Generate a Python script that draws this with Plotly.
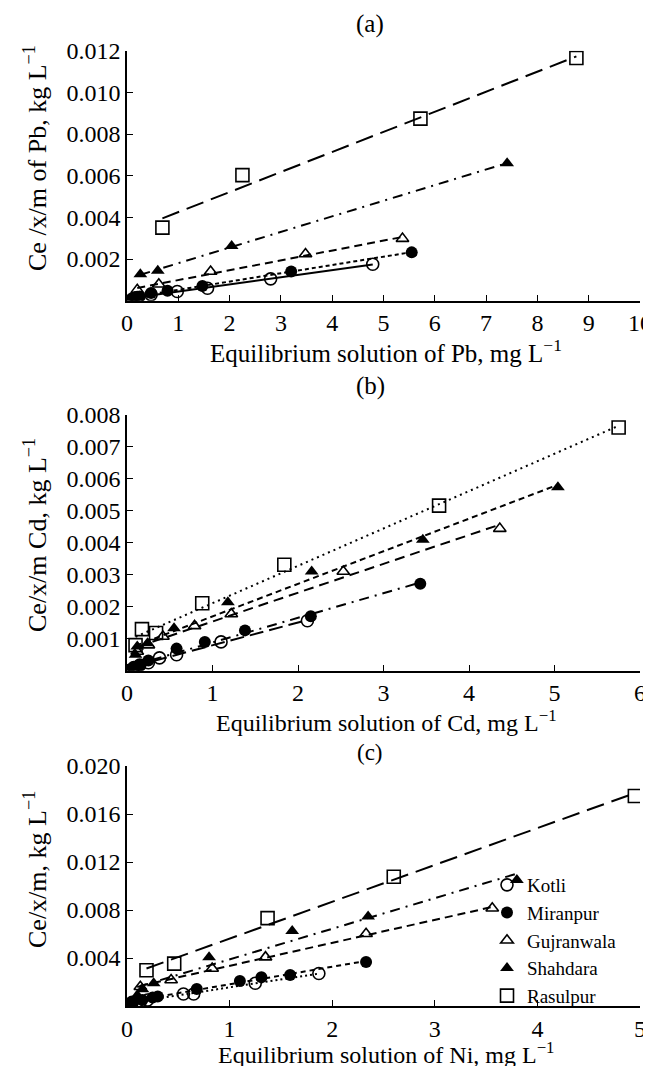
import numpy as np
import plotly.graph_objects as go

# ---------------- data ----------------
sites = ["Kotli", "Miranpur", "Gujranwala", "Shahdara", "Rasulpur"]

# Panel (a) Pb
pb_kotli_x = [0.2, 0.47, 0.98, 1.57, 2.8, 4.79]
pb_kotli_y = [0.00015, 0.00029, 0.00044, 0.0006, 0.00105, 0.00175]
pb_miranpur_x = [0.1, 0.15, 0.25, 0.47, 0.79, 1.47, 3.2, 5.55]
pb_miranpur_y = [0.00012, 0.00016, 0.0002, 0.00037, 0.00048, 0.00071, 0.0014, 0.00232]
pb_gujranwala_x = [0.2, 0.62, 1.63, 3.48, 5.37]
pb_gujranwala_y = [0.00052, 0.00079, 0.0014, 0.00224, 0.00298]
pb_shahdara_x = [0.26, 0.6, 2.04, 7.41]
pb_shahdara_y = [0.00127, 0.00144, 0.00262, 0.0066]
pb_rasulpur_x = [0.69, 2.25, 5.72, 8.76]
pb_rasulpur_y = [0.00351, 0.00603, 0.00874, 0.01165]

# Panel (b) Cd
cd_kotli_x = [0.08, 0.15, 0.25, 0.38, 0.58, 1.1, 2.11]
cd_kotli_y = [0.0001, 0.00018, 0.00025, 0.0004, 0.0005, 0.0009, 0.00156]
cd_miranpur_x = [0.02, 0.08, 0.15, 0.25, 0.58, 0.91, 1.38, 2.15, 3.43]
cd_miranpur_y = [0.00003, 0.0001, 0.00018, 0.00032, 0.00069, 0.0009, 0.00126, 0.0017, 0.00272]
cd_gujranwala_x = [0.12, 0.25, 0.42, 0.79, 1.22, 2.53, 4.36]
cd_gujranwala_y = [0.0006, 0.0008, 0.00107, 0.0014, 0.00177, 0.0031, 0.00444]
cd_shahdara_x = [0.1, 0.12, 0.24, 0.55, 1.18, 2.16, 3.46, 5.04]
cd_shahdara_y = [0.0005, 0.00076, 0.00086, 0.00133, 0.00214, 0.0031, 0.00409, 0.00573]
cd_rasulpur_x = [0.1, 0.175, 0.34, 0.88, 1.84, 3.65, 5.75]
cd_rasulpur_y = [0.0008, 0.0013, 0.00118, 0.00211, 0.00331, 0.00516, 0.0076]

# Panel (c) Ni
ni_kotli_x = [0.05, 0.1, 0.2, 0.55, 0.65, 1.25, 1.87]
ni_kotli_y = [0.0003, 0.0004, 0.0005, 0.001, 0.001, 0.0019, 0.00271]
ni_miranpur_x = [0.05, 0.15, 0.25, 0.3, 0.68, 1.10, 1.31, 1.59, 2.33]
ni_miranpur_y = [0.0003, 0.0005, 0.0007, 0.0008, 0.00141, 0.00209, 0.00239, 0.00258, 0.00366]
ni_gujranwala_x = [0.13, 0.43, 0.83, 1.35, 2.33, 3.56]
ni_gujranwala_y = [0.0016, 0.00217, 0.00312, 0.00407, 0.00602, 0.00814]
ni_shahdara_x = [0.1, 0.15, 0.26, 0.8, 1.61, 2.35, 3.8]
ni_shahdara_y = [0.0009, 0.0014, 0.0019, 0.00407, 0.00624, 0.00746, 0.0105]
ni_rasulpur_x = [0.19, 0.46, 1.37, 2.60, 4.95]
ni_rasulpur_y = [0.00298, 0.00353, 0.00732, 0.01077, 0.0175]

# ticks
a_xticks = [0, 1, 2, 3, 4, 5, 6, 7, 8, 9, 10]
a_yticks = [0.002, 0.004, 0.006, 0.008, 0.010, 0.012]
a_yticktext = ["0.002", "0.004", "0.006", "0.008", "0.010", "0.012"]
b_xticks = [0, 1, 2, 3, 4, 5, 6]
b_yticks = [0.001, 0.002, 0.003, 0.004, 0.005, 0.006, 0.007, 0.008]
b_yticktext = ["0.001", "0.002", "0.003", "0.004", "0.005", "0.006", "0.007", "0.008"]
c_xticks = [0, 1, 2, 3, 4, 5]
c_yticks = [0.004, 0.008, 0.012, 0.016, 0.020]
c_yticktext = ["0.004", "0.008", "0.012", "0.016", "0.020"]

panel_labels = ["(a)", "(b)", "(c)"]
x_titles = ["Equilibrium solution of Pb, mg L<sup>−1</sup>",
            "Equilibrium solution of Cd, mg L<sup>−1</sup>",
            "Equilibrium solution of Ni, mg L<sup>−1</sup>"]
y_titles = ["Ce /x/m of Pb, kg L<sup>−1</sup>",
            "Ce/x/m Cd, kg L<sup>−1</sup>",
            "Ce/x/m, kg L<sup>−1</sup>"]

# ---------------- styling ----------------
FONT = "Liberation Serif, Times New Roman, Times, serif"
W, H = 651, 1066
ML, MR, MT, MB = 119, 19, 10, 10
PH = H - MT - MB
PW = W - ML - MR

def ydom(top_px, bot_px):
    return [1 - (bot_px - MT) / PH, 1 - (top_px - MT) / PH]

def ypaper(px):
    return 1 - (px - MT) / PH

def xpaper(px):
    return (px - ML) / PW

panels_px = [(42.7, 292.7), (406.7, 662.7), (758, 998)]

markers = {
    "Kotli": dict(symbol="circle-open", size=12, color="black", line=dict(width=1.6, color="black")),
    "Miranpur": dict(symbol="circle", size=12, color="black"),
    "Gujranwala": dict(symbol="triangle-up-open", size=11, color="black", line=dict(width=1.6, color="black")),
    "Shahdara": dict(symbol="triangle-up", size=12, color="black"),
    "Rasulpur": dict(symbol="square-open", size=13, color="black", line=dict(width=1.6, color="black")),
}

dashes = [
    {"Kotli": "solid", "Miranpur": "4px,3px", "Gujranwala": "8px,5px",
     "Shahdara": "10px,6px,2px,6px", "Rasulpur": "18px,8px"},
    {"Kotli": "14px,6px", "Miranpur": "10px,6px,2px,6px", "Gujranwala": "10px,6px",
     "Shahdara": "6px,4px", "Rasulpur": "2px,4px"},
    {"Kotli": "2px,3px", "Miranpur": "5px,4px", "Gujranwala": "8px,5px",
     "Shahdara": "10px,6px,2px,6px", "Rasulpur": "18px,8px"},
]

data = [
    [(pb_kotli_x, pb_kotli_y), (pb_miranpur_x, pb_miranpur_y), (pb_gujranwala_x, pb_gujranwala_y),
     (pb_shahdara_x, pb_shahdara_y), (pb_rasulpur_x, pb_rasulpur_y)],
    [(cd_kotli_x, cd_kotli_y), (cd_miranpur_x, cd_miranpur_y), (cd_gujranwala_x, cd_gujranwala_y),
     (cd_shahdara_x, cd_shahdara_y), (cd_rasulpur_x, cd_rasulpur_y)],
    [(ni_kotli_x, ni_kotli_y), (ni_miranpur_x, ni_miranpur_y), (ni_gujranwala_x, ni_gujranwala_y),
     (ni_shahdara_x, ni_shahdara_y), (ni_rasulpur_x, ni_rasulpur_y)],
]

fig = go.Figure()

for p in range(3):
    xa = "x" if p == 0 else f"x{p+1}"
    ya = "y" if p == 0 else f"y{p+1}"
    for s, (xs, ys) in zip(sites, data[p]):
        xs_arr = np.array(xs)
        ys_arr = np.array(ys)
        k, b = np.polyfit(xs_arr, ys_arr, 1)
        xl = np.array([xs_arr.min(), xs_arr.max()])
        fig.add_trace(go.Scatter(x=xl, y=k * xl + b, mode="lines", xaxis=xa, yaxis=ya,
                                 line=dict(color="black", width=2, dash=dashes[p][s]),
                                 showlegend=False, hoverinfo="skip"))
    for s, (xs, ys) in zip(sites, data[p]):
        fig.add_trace(go.Scatter(x=xs, y=ys, mode="markers", xaxis=xa, yaxis=ya, name=s,
                                 marker=markers[s], showlegend=(p == 2)))

axis_common = dict(showline=True, linecolor="black", linewidth=1.5, ticks="inside",
                   ticklen=6, tickwidth=1.2, tickcolor="black", showgrid=False, zeroline=False,
                   tickfont=dict(family=FONT, size=24, color="black"), automargin=False)

xranges = [[0, 10], [0, 6], [0, 5]]
xtickss = [a_xticks, b_xticks, c_xticks]
yranges = [[0, 0.012], [0, 0.008], [0, 0.020]]
ytickss = [(a_yticks, a_yticktext), (b_yticks, b_yticktext), (c_yticks, c_yticktext)]

layout = {}
for p in range(3):
    xk = "xaxis" if p == 0 else f"xaxis{p+1}"
    yk = "yaxis" if p == 0 else f"yaxis{p+1}"
    ya = "y" if p == 0 else f"y{p+1}"
    xa = "x" if p == 0 else f"x{p+1}"
    layout[xk] = dict(axis_common, range=xranges[p], tickvals=xtickss[p], anchor=ya, domain=[0, 1])
    layout[yk] = dict(axis_common, range=yranges[p], tickvals=ytickss[p][0], ticktext=ytickss[p][1],
                      anchor=xa, domain=ydom(*panels_px[p]))

fig.update_layout(**layout)

annotations = []
label_y = [16, 378, 744]
xtitle_y = [343, 713, 1045]
ytitle_y = [150, 527, 862]
for p in range(3):
    annotations.append(dict(text=panel_labels[p], xref="paper", yref="paper",
                            x=xpaper(362), y=ypaper(label_y[p]),
                            showarrow=False, xanchor="center", yanchor="middle",
                            font=dict(family=FONT, size=23 if p == 2 else 25, color="black")))
    annotations.append(dict(text=x_titles[p], xref="paper", yref="paper",
                            x=xpaper(378), y=ypaper(xtitle_y[p]),
                            showarrow=False, xanchor="center", yanchor="middle",
                            font=dict(family=FONT, size=25 if p == 0 else 24, color="black")))
    annotations.append(dict(text=y_titles[p], xref="paper", yref="paper",
                            x=xpaper(27), y=ypaper(ytitle_y[p]),
                            showarrow=False, xanchor="center", yanchor="middle", textangle=-90,
                            font=dict(family=FONT, size=26, color="black")))

fig.update_layout(
    width=W, height=H,
    margin=dict(l=ML, r=MR, t=MT, b=MB),
    paper_bgcolor="white", plot_bgcolor="white",
    annotations=annotations,
    showlegend=True,
    legend=dict(x=xpaper(479), y=ypaper(858), xanchor="left", yanchor="top",
                bgcolor="rgba(0,0,0,0)", font=dict(family=FONT, size=19, color="black"),
                tracegroupgap=0, itemwidth=30),
)

fig.write_html("out.html")
